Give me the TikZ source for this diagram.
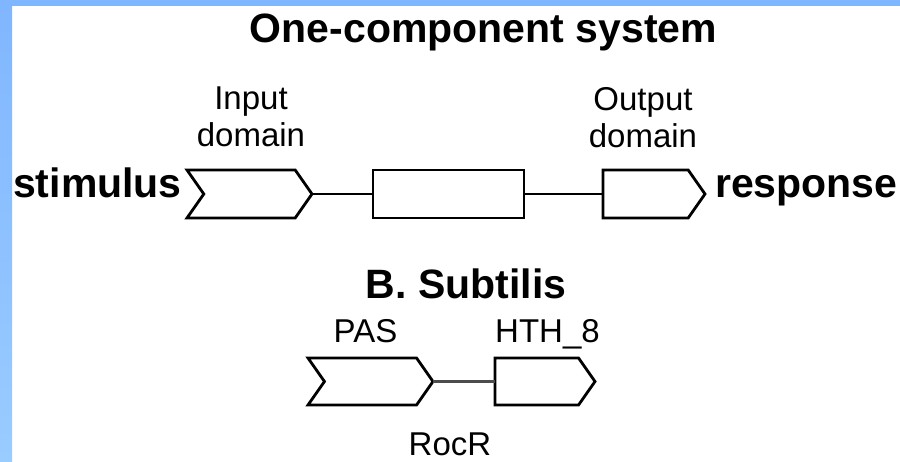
\documentclass[tikz,border=0pt]{standalone}
\usepackage{fontspec}
\setmainfont{Liberation Sans}
\usetikzlibrary{shapes.symbols}
\definecolor{bluetop}{RGB}{128,182,255}
\definecolor{bluebot}{RGB}{153,204,255}
\begin{document}
\begin{tikzpicture}[x=1pt,y=-1pt,
  dombox/.style={draw=black, line width=2.8pt, fill=white, inner sep=0pt, outer sep=0pt,
    minimum height=48pt, shape=signal, signal pointer angle=110, signal to=east},
  midbox/.style={draw=black, line width=2.8pt, fill=white, inner sep=0pt, outer sep=0pt,
    minimum height=48pt, minimum width=151pt, rectangle},
  link/.style={draw=black, line width=2.1pt},
  lbl/.style={inner sep=0pt, font=\fontsize{33}{37}\selectfont, align=center},
  big/.style={inner sep=0pt, font=\fontsize{41}{45}\selectfont\bfseries}]
\useasboundingbox (0,0) rectangle (900,461);
\fill[white] (0,0) rectangle (900,461);
\shade[top color=bluetop, bottom color=bluebot] (0,0) rectangle (12,461);
\fill[bluetop] (0,0) rectangle (900,6);

\node[big, anchor=base] (title) at (483.5,42) {One-component system};
\node[lbl, anchor=north] (inlbl) at (251,87) {Input\\domain};
\node[lbl, anchor=north] (outlbl) at (643,87) {Output\\domain};
\node[big, anchor=base west] (stim) at (13,197) {stimulus};
\node[big, anchor=base west] (resp) at (715,197) {response};

\node[dombox, signal from=west, minimum width=125pt] (in) at (249.5,194) {};
\node[midbox, anchor=west] (mid) at (373,194) {};
\node[dombox, minimum width=102pt, anchor=west] (out) at (603,194) {};
\draw[link] (in.east) -- (mid.west);
\draw[link] (mid.east) -- (out.west);

\node[big, anchor=base] (bsub) at (466,298) {B. Subtilis};
\node[lbl, anchor=base] (pas) at (365.5,342) {PAS};
\node[lbl, anchor=base] (hth) at (547.5,342) {HTH\_8};
\node[dombox, signal from=west, minimum width=125pt, minimum height=47pt] (pasbox) at (370.5,381.5) {};
\node[dombox, minimum width=100pt, minimum height=47pt, anchor=west] (hthbox) at (495,381.5) {};
\draw[link, draw=black!70, line width=2.6pt] (pasbox.east) -- (hthbox.west);
\node[lbl, anchor=base] (rocr) at (450,455) {RocR};
\end{tikzpicture}
\end{document}
